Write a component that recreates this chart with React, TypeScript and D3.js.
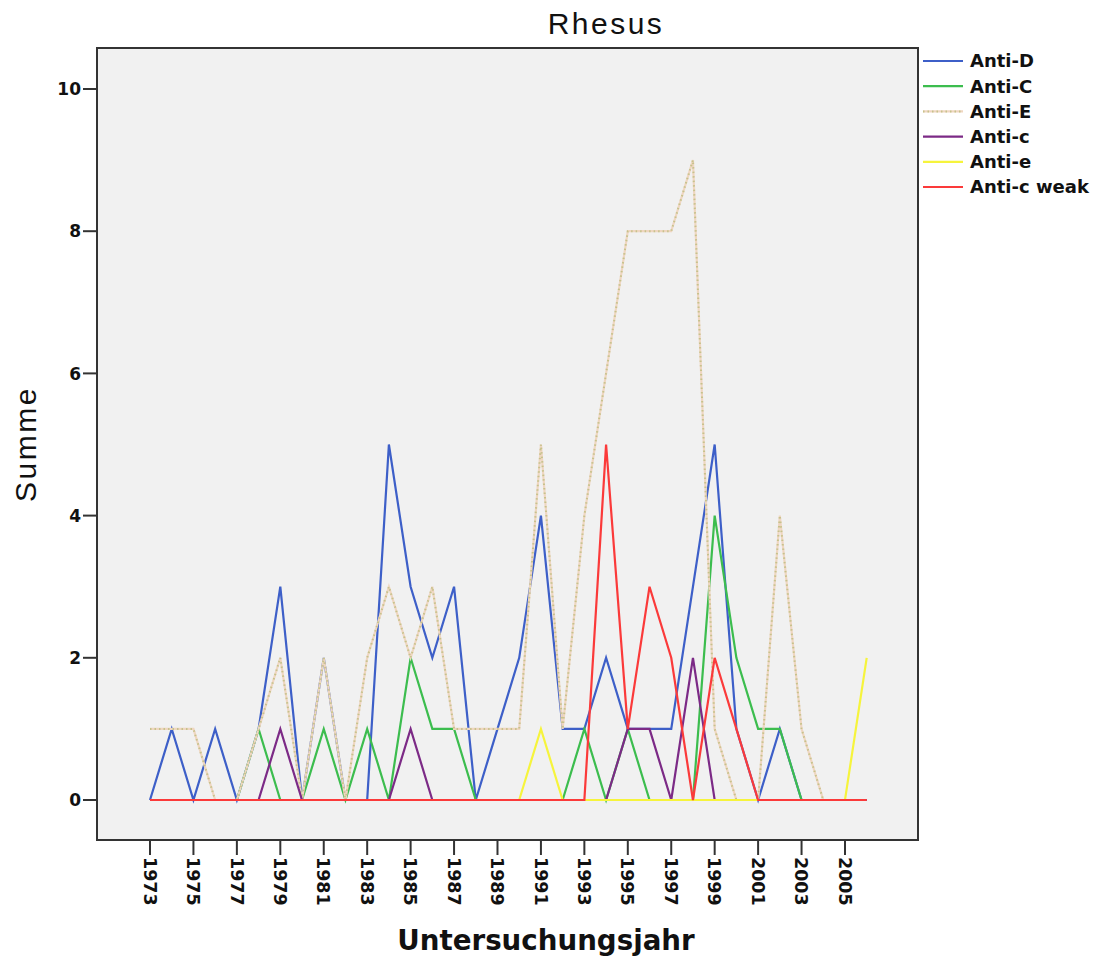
import * as d3 from "d3";

const years = [
  1973, 1974, 1975, 1976, 1977, 1978, 1979, 1980, 1981, 1982, 1983, 1984,
  1985, 1986, 1987, 1988, 1989, 1990, 1991, 1992, 1993, 1994, 1995, 1996,
  1997, 1998, 1999, 2000, 2001, 2002, 2003, 2004, 2005, 2006,
];
const yearTicks = [
  1973, 1975, 1977, 1979, 1981, 1983, 1985, 1987, 1989, 1991, 1993, 1995,
  1997, 1999, 2001, 2003, 2005,
];
const yTicks = [0, 2, 4, 6, 8, 10];

// values per year, 1973..2006
const antiD = [0, 1, 0, 1, 0, 1, 3, 0, 2, 0, 0, 5, 3, 2, 3, 0, 1, 2, 4, 1, 1, 2, 1, 1, 1, 3, 5, 1, 0, 1, 0, 0, 0, 0];
const antiC = [0, 0, 0, 0, 0, 1, 0, 0, 1, 0, 1, 0, 2, 1, 1, 0, 0, 0, 0, 0, 1, 0, 1, 0, 0, 0, 4, 2, 1, 1, 0, 0, 0, 0];
const antiE = [1, 1, 1, 0, 0, 1, 2, 0, 2, 0, 2, 3, 2, 3, 1, 1, 1, 1, 5, 1, 4, 6, 8, 8, 8, 9, 1, 0, 0, 4, 1, 0, 0, 0];
const antic = [0, 0, 0, 0, 0, 0, 1, 0, 0, 0, 0, 0, 1, 0, 0, 0, 0, 0, 0, 0, 0, 0, 1, 1, 0, 2, 0, 0, 0, 0, 0, 0, 0, 0];
const antie = [0, 0, 0, 0, 0, 0, 0, 0, 0, 0, 0, 0, 0, 0, 0, 0, 0, 0, 1, 0, 0, 0, 0, 0, 0, 0, 0, 0, 0, 0, 0, 0, 0, 2];
const anticWeak = [0, 0, 0, 0, 0, 0, 0, 0, 0, 0, 0, 0, 0, 0, 0, 0, 0, 0, 0, 0, 0, 5, 1, 3, 2, 0, 2, 1, 0, 0, 0, 0, 0, 0];

const series = [
  { name: "Anti-D", values: antiD, color: "#3d5fc8", dots: null },
  { name: "Anti-C", values: antiC, color: "#3cbd4e", dots: null },
  { name: "Anti-E", values: antiE, color: "#efd6c0", dots: "#c6c28c" },
  { name: "Anti-c", values: antic, color: "#7c2a86", dots: null },
  { name: "Anti-e", values: antie, color: "#f6f43c", dots: null },
  { name: "Anti-c weak", values: anticWeak, color: "#fb3a3a", dots: null },
];

const W = 1100;
const H = 960;
const plot = { left: 97, top: 48, right: 918, bottom: 840 };

export default function App() {
  const x = d3.scaleLinear().domain([1973, 2006]).range([150, 866.7]);
  const y = d3.scaleLinear().domain([0, 10]).range([800, 89]);
  const line = d3
    .line<number>()
    .x((_d, i) => x(years[i]))
    .y((d) => y(d));

  const bold = "'DejaVu Sans', sans-serif";
  const helv = "'Liberation Sans', Arial, sans-serif";

  return (
    <svg width={W} height={H} style={{ display: "block", position: "absolute", left: 0, top: 0 }}>
      <rect x={0} y={0} width={W} height={H} fill="#ffffff" />
      {/* title */}
      <text x={606} y={34} textAnchor="middle" fontFamily={helv} fontSize={30} letterSpacing={2.5} fill="#111">
        Rhesus
      </text>

      {/* plot area */}
      <rect
        x={plot.left}
        y={plot.top}
        width={plot.right - plot.left}
        height={plot.bottom - plot.top}
        fill="#f1f1f1"
        stroke="#333"
        strokeWidth={2}
      />

      {/* y axis */}
      {yTicks.map((t) => (
        <g key={t}>
          <line x1={83} x2={plot.left} y1={y(t)} y2={y(t)} stroke="#333" strokeWidth={2} />
          <text x={81} y={y(t)} dy="0.36em" textAnchor="end" fontFamily={bold} fontWeight="bold" fontSize={17} fill="#111">
            {t}
          </text>
        </g>
      ))}
      <text
        transform={`translate(36,${444}) rotate(-90)`}
        textAnchor="middle"
        fontFamily={helv}
        fontSize={30}
        letterSpacing={2.5}
        fill="#111"
      >
        Summe
      </text>

      {/* x axis */}
      {yearTicks.map((t) => (
        <g key={t}>
          <line x1={x(t)} x2={x(t)} y1={plot.bottom} y2={855} stroke="#333" strokeWidth={2} />
          <text
            transform={`translate(${x(t)},${857}) rotate(90)`}
            dy="0.36em"
            fontFamily={bold}
            fontWeight="bold"
            fontSize={17.5}
            fill="#111"
          >
            {t}
          </text>
        </g>
      ))}
      <text x={546} y={950} textAnchor="middle" fontFamily={bold} fontWeight="bold" fontSize={27.7} fill="#111">
        Untersuchungsjahr
      </text>

      {/* lines */}
      {series.map((s) => (
        <g key={s.name}>
          <path d={line(s.values) || ""} fill="none" stroke={s.color} strokeWidth={2.2} strokeLinejoin="miter" />
          {s.dots && (
            <path d={line(s.values) || ""} fill="none" stroke={s.dots} strokeWidth={2} strokeDasharray="1.5,3" />
          )}
        </g>
      ))}

      {/* legend */}
      {series.map((s, i) => {
        const ly = 61 + i * 25.2;
        return (
          <g key={s.name}>
            <line x1={923} x2={963} y1={ly} y2={ly} stroke={s.color} strokeWidth={2.2} />
            {s.dots && <line x1={923} x2={963} y1={ly} y2={ly} stroke={s.dots} strokeWidth={2} strokeDasharray="1.5,3" />}
            <text x={970} y={ly} dy="0.36em" fontFamily={bold} fontWeight="bold" fontSize={18} fill="#111">
              {s.name}
            </text>
          </g>
        );
      })}
    </svg>
  );
}
